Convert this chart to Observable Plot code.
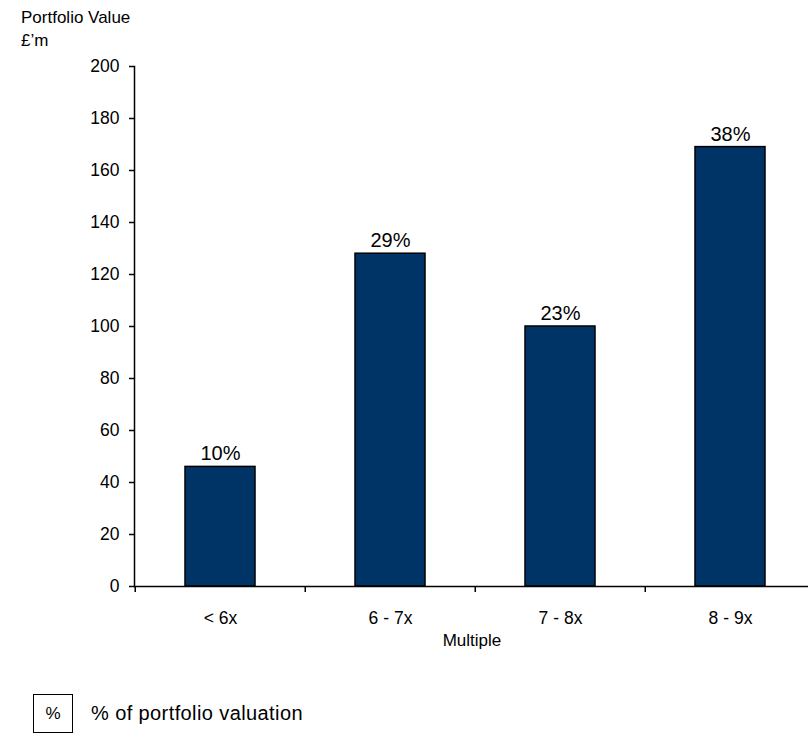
<!DOCTYPE html>
<html>
<head>
<meta charset="utf-8">
<script src="https://cdn.jsdelivr.net/npm/d3@7"></script>
<script src="https://cdn.jsdelivr.net/npm/@observablehq/plot@0.6"></script>
<style>
  html, body { margin: 0; padding: 0; background: #fff; overflow: hidden; }
  body { width: 808px; height: 737px; position: relative; font-family: "Liberation Sans", Arial, sans-serif; color: #000; }
  #chart { position: absolute; left: 0; top: 0; }
  #chart svg { max-width: none; background: transparent; }
  .note { position: absolute; font-size: 17px; line-height: 17px; white-space: nowrap; }
  .legend { position: absolute; left: 33px; top: 694px; display: flex; align-items: center; font-size: 20px; letter-spacing: 0.4px; white-space: nowrap; }
  .legend .box { width: 38px; height: 37px; border: 1px solid #000; display: flex; align-items: center; justify-content: center; font-size: 17px; letter-spacing: 0; margin-right: 18px; box-sizing: content-box; }
</style>
</head>
<body>
<div id="chart"></div>
<div class="note" style="left:21px; top:9px">Portfolio Value</div>
<div class="note" style="left:21px; top:32px">£’m</div>
<div class="note" style="left:372px; top:632px; width:200px; text-align:center">Multiple</div>
<div class="legend"><div class="box">%</div><span>% of portfolio valuation</span></div>
<script>
// Portfolio value by valuation multiple band
const multiples = ["< 6x", "6 - 7x", "7 - 8x", "8 - 9x"];
const values = [46, 128, 100, 169];          // £m
const shares = ["10%", "29%", "23%", "38%"];  // share of portfolio valuation
const yTicks = [0, 20, 40, 60, 80, 100, 120, 140, 160, 180, 200];

const data = multiples.map((m, i) => ({multiple: m, value: values[i], share: shares[i]}));

const width = 816, marginLeft = 134, marginRight = 0;
const step = (width - marginLeft - marginRight) / multiples.length;
const font = "Liberation Sans, Arial, sans-serif";

const chart = Plot.plot({
  width,
  height: 660,
  marginLeft,
  marginRight,
  marginTop: 66,
  marginBottom: 74,
  style: {fontFamily: font, fontSize: "17.5px", color: "#000", background: "transparent", overflow: "visible", maxWidth: "none"},
  x: {domain: multiples, padding: 0},
  y: {domain: [0, 200], ticks: yTicks},
  marks: [
    Plot.barY(data, {x: "multiple", y: "value", fill: "#003366", stroke: "#000", strokeWidth: 1.5, insetLeft: 50, insetRight: 50}),
    Plot.text(data, {x: "multiple", y: "value", text: "share", dy: -13, fontSize: 20, fill: "#000"}),
    Plot.axisY({ticks: yTicks, tickSize: 5, tickPadding: 10, label: null, strokeWidth: 1.5}),
    Plot.frame({anchor: "left", stroke: "#000", strokeWidth: 1.5}),
    Plot.ruleY([0], {stroke: "#000", strokeWidth: 1.5}),
    // tick marks between categories
    Plot.axisX({tickSize: 6, tickFormat: () => "", dx: -step / 2, label: null, strokeWidth: 1.5}),
    // category labels centred under the bars
    Plot.axisX({tickSize: 0, tickPadding: 25, label: null})
  ]
});
document.getElementById("chart").appendChild(chart);
</script>
</body>
</html>
